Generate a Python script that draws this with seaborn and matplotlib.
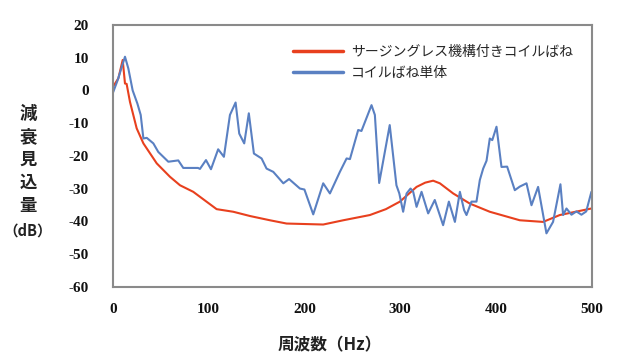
import matplotlib
matplotlib.use("Agg")
import matplotlib.pyplot as plt
import seaborn as sns
import pandas as pd

# ---- data ----
series_names = ["サージングレス機構付きコイルばね", "コイルばね単体"]

red_freq = [0, 2.4, 5.9, 10.4, 12.8, 14.5, 18, 25, 32, 45.9, 59.7, 70.2, 84, 108.4, 125.8,
            143.2, 164, 181.4, 219.6, 240.5, 268.3, 285, 299.6, 317, 326, 334.3, 341.3,
            355.2, 372.6, 393.4, 424.7, 449, 466.4, 499.4]
red_db = [1, 2.1, 3.7, 9.3, 2.1, 2, -3.5, -11.6, -16.2, -22.3, -26.4, -29, -31, -36.3, -37.1,
          -38.4, -39.7, -40.7, -41, -39.7, -38.1, -36.3, -34, -29.5, -28.2, -27.6, -28.4,
          -31.5, -34.6, -37.1, -39.7, -40.2, -38.1, -36.1]

blue_freq = [0, 5, 12.8, 16.3, 20.8, 25.7, 29.2, 32, 35.5, 42.4, 47.5, 58, 68.4, 73.6, 89, 91,
             97.3, 102.5, 110, 116, 122.3, 128.2, 132, 137.2, 142, 147.3, 155.3, 160.5,
             167.5, 178, 184, 195.3, 200, 209.2, 219.6, 226.6, 237, 244, 247.5, 256.1,
             259.5, 270, 273.5, 278, 289, 296, 299, 303, 306.6, 310.7, 313.5, 317, 322.2,
             329.1, 336, 344.7, 350.7, 357, 362.2, 366.6, 369.1, 374.3, 379.5, 383, 386.5,
             390, 393.4, 396, 400.4, 405.6, 411.5, 419.5, 424.7, 431.7, 436.9, 443.8, 452.5,
             459.4, 467.1, 469.9, 473.4, 478.6, 483.8, 489, 494, 499.4]
blue_db = [-0.9, 3, 10.3, 6.7, 0, -4, -7.5, -14.7, -14.5, -16.2, -18.8, -21.8, -21.4, -23.7,
           -23.7, -24, -21.3, -24.1, -18, -20.3, -7.5, -3.7, -13.2, -16.2, -7.0, -19.3,
           -20.8, -23.9, -24.9, -28.4, -27.1, -30, -30.3, -37.9, -28.4, -31.5, -24.9,
           -20.8, -21, -12.1, -12.4, -4.5, -7.5, -28.3, -10.6, -29, -31.5, -37.1, -31.5,
           -30, -31, -35.6, -31, -37.6, -33.5, -41.2, -34, -40.2, -31, -36.6, -38.1, -34,
           -34, -27.4, -23.9, -21.5, -14.7, -15.2, -11.1, -23.4, -23.3, -30.5, -29.4,
           -28.4, -35.1, -29.5, -43.7, -40.2, -28.7, -38.1, -36.1, -38, -37, -38, -37, -31]

x_ticks = [0, 100, 200, 300, 400, 500]
y_ticks = [20, 10, 0, -10, -20, -30, -40, -50, -60]
y_label_chars = ["減", "衰", "見", "込", "量", "（dB）"]
x_label = "周波数（Hz）"

df = pd.concat([
    pd.DataFrame({"f": red_freq, "db": red_db, "s": series_names[0]}),
    pd.DataFrame({"f": blue_freq, "db": blue_db, "s": series_names[1]}),
], ignore_index=True)

sns.set_style("white")
cjk = ["Noto Sans CJK JP", "DejaVu Sans"]
plt.rcParams["font.family"] = cjk

fig = plt.figure(figsize=(6.39, 3.57), dpi=100)
ax = fig.add_axes([0.1764, 0.197, 0.7500, 0.733])

sns.lineplot(data=df, x="f", y="db", hue="s", hue_order=series_names,
             palette=["#E8401E", "#5A80C2"], linewidth=1.5, sort=False,
             estimator=None, ax=ax)

ax.set_xlim(0, 500)
ax.set_ylim(-60, 20)
ax.set_xticks(x_ticks)
ax.set_yticks(y_ticks)
ax.set_xticklabels([str(v) for v in x_ticks], fontfamily="Liberation Serif",
                   fontweight="bold", fontsize=11)
ax.set_yticklabels([str(v) for v in y_ticks], fontfamily="Liberation Serif",
                   fontweight="bold", fontsize=11)
ax.tick_params(axis="both", direction="out", length=3, width=1, color="#999999",
               labelcolor="#111111")
ax.tick_params(axis="x", pad=9)
ax.tick_params(axis="y", pad=14)
for sp in ax.spines.values():
    sp.set_color("#8a8a8a")
    sp.set_linewidth(1.5)
ax.set_xlabel("")
ax.set_ylabel("")

leg = ax.legend(loc="upper left", bbox_to_anchor=(0.35, 0.97), frameon=False,
                fontsize=10, handlelength=3.6, handletextpad=0.6, labelspacing=0.45)
for line in leg.get_lines():
    line.set_linewidth(2.5)

fig.text(0.516, 0.033, x_label, ha="center", va="center",
         fontsize=12, fontweight="bold", color="#222222")
y_px = [114, 137, 160, 183, 206, 231]
for ch, yp in zip(y_label_chars, y_px):
    fig.text(28 / 639, 1 - yp / 357, ch, ha="center", va="center",
             fontsize=12.5 if len(ch) == 1 else 10.5, fontweight="bold", color="#222222")

fig.savefig("out.png", dpi=100)
